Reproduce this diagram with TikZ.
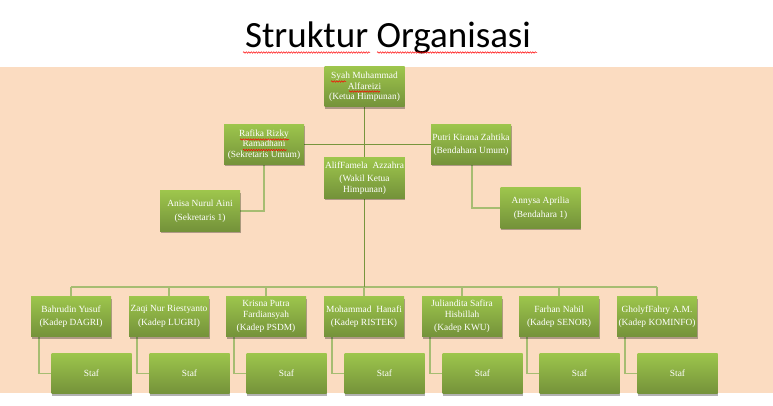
\documentclass[tikz,border=0pt]{standalone}
\usepackage{fontspec}
\setmainfont{Liberation Serif}
\newfontfamily\titlefont{Carlito}
\usetikzlibrary{shadows,decorations.pathmorphing,backgrounds}
\definecolor{peach}{HTML}{FBDCC1}
\definecolor{boxtop}{HTML}{9DC54C}
\definecolor{boxbot}{HTML}{74923A}
\definecolor{mainline}{HTML}{77953D}
\definecolor{subline}{HTML}{A6BD72}
\tikzset{
  orgbox/.style={rectangle, minimum width=80pt, minimum height=40pt, inner sep=1pt,
    top color=boxtop, bottom color=boxbot, draw=none, text=white, align=center,
    font=\fontsize{9.4}{10.5}\selectfont,
    drop shadow={shadow xshift=0.5pt, shadow yshift=-2pt, opacity=0.3, fill=black}},
  mainconn/.style={draw=mainline, line width=1.3pt},
  subconn/.style={draw=subline, line width=1.3pt},
  spell/.style={draw=red, line width=0.5pt, decorate,
    decoration={snake, amplitude=0.7pt, segment length=2.5pt}}
}
\begin{document}
\begin{tikzpicture}[x=1pt,y=-1pt]
\useasboundingbox (0,0) rectangle (773,406);

\node[anchor=base, font=\titlefont\fontsize{37}{40}\selectfont] (title) at (388,48) {Struktur Organisasi};
\draw[spell] (243,52.5) -- (370,52.5);
\draw[spell] (377,52.5) -- (537,52.5);

\node[orgbox] (syah) at (364.5,87) {Syah Muhammad\\Alfareizi\\(Ketua Himpunan)};
\node[orgbox] (rafika) at (264,144.5) {Rafika Rizky\\Ramadhani\\(Sekretaris Umum)};
\node[orgbox] (putri) at (471,144.5) {Putri Kirana Zahtika\\[3pt](Bendahara Umum)};
\node[orgbox] (alif) at (364.5,178) {AlifFamela\ \ Azzahra\\[3pt](Wakil Ketua\\Himpunan)};
\node[orgbox] (anisa) at (200,211) {Anisa Nurul Aini\\[3pt](Sekretaris 1)};
\node[orgbox] (annysa) at (540.5,208) {Annysa Aprilia\\[3pt](Bendahara 1)};

\node[orgbox] (k1) at (71,316.5) {Bahrudin Yusuf\\[3pt](Kadep DAGRI)};
\node[orgbox] (k2) at (169,316.5) {Zaqi Nur Riestyanto\\[3pt](Kadep LUGRI)};
\node[orgbox] (k3) at (266,316.5) {Krisna Putra\\Fardiansyah\\[3pt](Kadep PSDM)};
\node[orgbox] (k4) at (364,316.5) {Mohammad\ \ Hanafi\\[3pt](Kadep RISTEK)};
\node[orgbox] (k5) at (462,316.5) {Juliandita Safira\\Hisbillah\\[3pt](Kadep KWU)};
\node[orgbox] (k6) at (559,316.5) {Farhan Nabil\\[3pt](Kadep SENOR)};
\node[orgbox] (k7) at (657,316.5) {GholyfFahry A.M.\\[3pt](Kadep KOMINFO)};

\foreach \i/\x in {1/91.5,2/189.5,3/286.5,4/384.5,5/482.5,6/579.5,7/677.5}{
  \node[orgbox] (s\i) at (\x,373.5) {Staf};
}

\draw[spell] (331,81.5) -- (346,81.5);
\draw[spell] (349,91.5) -- (380,91.5);
\draw[spell] (240,139.5) -- (289,139.5);
\draw[spell] (243,150) -- (287,150);

\begin{scope}[on background layer]
  \fill[white] (0,0) rectangle (773,406);
  \fill[peach] (0,67) rectangle (773,393);
  \coordinate (bar) at (364.5,287);
  \draw[subconn] (bar -| k1.north) -- (bar -| k7.north);
  \foreach \i in {1,...,7}{
    \draw[subconn] (bar -| k\i.north) -- (k\i.north);
    \draw[subconn] ([xshift=-32pt]k\i.south) |- (s\i.west);
  }
  \draw[mainconn] (syah.south) -- (bar);
  \draw[mainconn] (rafika.east) -- (putri.west);
  \draw[subconn] (rafika.south) |- (anisa.east);
  \draw[subconn] ([xshift=1pt]putri.south) |- (annysa.west);
\end{scope}
\end{tikzpicture}
\end{document}
